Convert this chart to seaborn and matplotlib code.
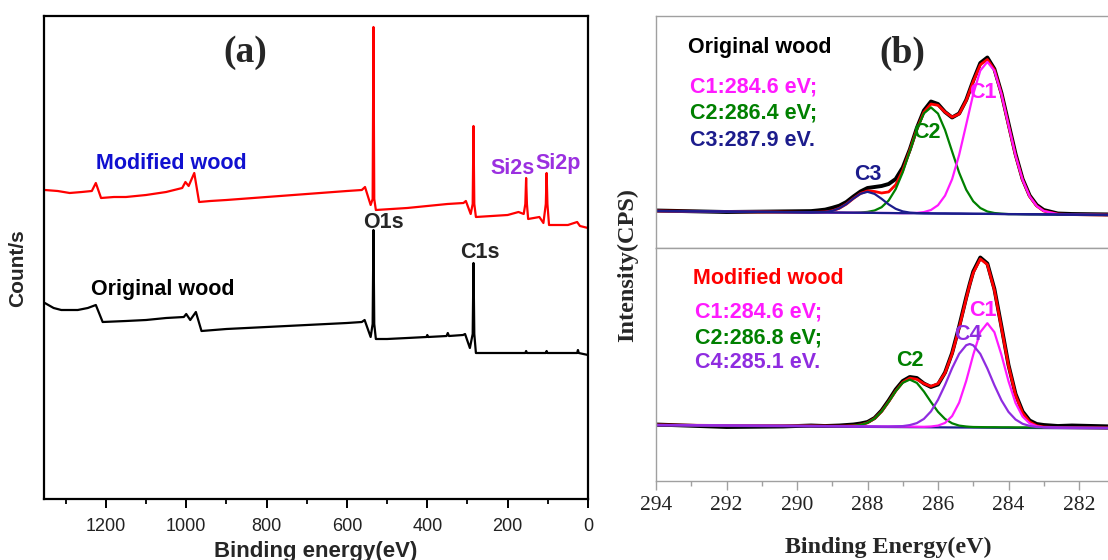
import matplotlib
matplotlib.use("Agg")
import matplotlib.pyplot as plt
import seaborn as sns
from matplotlib.ticker import MultipleLocator

sns.set_theme(style="white")
plt.rcParams['font.family'] = ['Liberation Sans', 'DejaVu Sans']

# ---------------- Panel (a): survey spectra ----------------
SURVEY_E_MOD = [1352, 1320, 1290, 1260, 1235, 1225, 1212, 1180, 1150, 1100, 1050, 1010, 1002, 994,
                980, 968, 940, 900, 800, 700, 600, 563, 555, 541, 536, 534, 532, 528, 450, 400,
                350, 310, 304, 292, 287, 285, 283, 279, 200, 173, 160, 156, 154, 152, 149, 121,
                111, 105, 103, 101, 97, 50, 27, 20, 0]
SURVEY_C_MOD = [309, 308, 306, 307, 308, 316, 301, 302, 302, 304, 307, 311, 317, 313,
                326, 297, 298, 299, 302, 305, 308, 309, 312, 294, 300, 472, 300, 289, 291, 293,
                295, 296, 298, 285, 295, 373, 295, 282, 284, 287, 285, 295, 321, 295, 280, 282,
                276, 295, 326, 295, 274, 274, 277, 273, 271]

SURVEY_E_ORI = [1352, 1330, 1311, 1270, 1245, 1225, 1208, 1150, 1100, 1050, 1006, 1000, 990, 976,
                962, 900, 800, 700, 600, 563, 556, 541, 536, 534, 532, 528, 500, 450, 402, 400,
                398, 352, 349, 346, 311, 306, 294, 287, 285, 283, 279, 200, 156, 154, 152, 105,
                103, 101, 27, 25, 23, 0]
SURVEY_C_ORI = [196, 191, 189, 189, 191, 194, 177, 178, 179, 181, 182, 185, 179, 187,
                168, 170, 172, 174, 176, 177, 179, 162, 175, 269, 175, 160, 160, 161, 162, 164,
                162, 163, 166, 163, 164, 165, 151, 165, 236, 165, 146, 146, 146, 148, 146, 146,
                148, 146, 146, 149, 146, 144]

SURVEY_TICKS = [1200, 1000, 800, 600, 400, 200, 0]

# ---------------- Panel (b): C1s high resolution ----------------
E_TOP = [294.0, 292.0, 290.4, 289.6, 289.4, 289.2, 289.0, 288.8, 288.6, 288.4, 288.2, 288.0,
         287.8, 287.6, 287.4, 287.2, 287.0, 286.8, 286.6, 286.4, 286.2, 286.0, 285.8, 285.6,
         285.4, 285.2, 285.0, 284.8, 284.6, 284.4, 284.2, 284.0, 283.8, 283.6, 283.4, 283.2,
         283.0, 282.6, 282.2, 281.0]
TOP_MEASURED = [37.5, 36.0, 36.6, 36.9, 37.6, 38.4, 40.2, 42.3, 46.0, 51.5, 56.5, 60.0,
                61.0, 62.0, 64.0, 69.0, 80.5, 98.5, 120.0, 137.5, 146.5, 144.0, 136.0, 130.5,
                134.5, 148.0, 167.5, 185.0, 190.5, 179.0, 155.0, 124.5, 94.0, 69.0, 52.5, 43.0,
                38.0, 34.5, 34.0, 33.5]
TOP_ENVELOPE = [37.0, 36.4, 35.9, 35.6, 35.8, 36.1, 37.2, 39.7, 43.9, 49.5, 54.5, 57.1,
                56.5, 55.0, 56.1, 63.2, 77.5, 97.6, 118.8, 135.8, 144.0, 142.7, 135.9, 130.9,
                134.0, 147.4, 166.5, 183.2, 188.5, 178.2, 154.1, 123.0, 92.6, 68.2, 51.6, 42.0,
                37.0, 33.9, 33.4, 33.0]
TOP_C1 = [37.0, 36.4, 35.9, 35.6, 35.6, 35.5, 35.4, 35.4, 35.3, 35.3, 35.2, 35.2,
          35.1, 35.0, 35.0, 34.9, 34.8, 34.9, 35.1, 35.9, 38.0, 42.8, 52.4, 68.8,
          93.1, 123.4, 154.0, 177.4, 186.1, 177.3, 153.8, 123.0, 92.6, 68.2, 51.6, 42.0,
          37.0, 33.9, 33.4, 33.0]
TOP_C2 = [37.0, 36.4, 35.9, 35.6, 35.6, 35.5, 35.4, 35.4, 35.3, 35.3, 35.5, 36.1,
          37.5, 40.8, 47.5, 58.9, 75.7, 96.9, 118.2, 134.6, 140.6, 134.4, 118.0, 96.5,
          75.3, 58.3, 46.7, 40.0, 36.5, 35.0, 34.3, 33.9, 33.9, 33.8, 33.7, 33.7,
          33.6, 33.5, 33.4, 33.0]
TOP_C3 = [37.0, 36.4, 35.9, 35.6, 35.8, 36.1, 37.2, 39.7, 43.9, 49.5, 54.2, 56.2,
          54.1, 49.2, 43.6, 39.2, 36.6, 35.4, 34.9, 34.7, 34.6, 34.5, 34.5, 34.4,
          34.4, 34.3, 34.2, 34.2, 34.1, 34.1, 34.0, 33.9, 33.9, 33.8, 33.7, 33.7,
          33.6, 33.5, 33.4, 33.0]
TOP_BG_E = [294.0, 281.0]
TOP_BG = [37.0, 33.0]

E_BOT = [294.0, 292.0, 290.4, 289.6, 289.2, 288.8, 288.6, 288.4, 288.2, 288.0, 287.8, 287.6,
         287.4, 287.2, 287.0, 286.8, 286.6, 286.4, 286.2, 286.0, 285.8, 285.6, 285.4, 285.2,
         285.1, 285.0, 284.8, 284.6, 284.4, 284.2, 284.0, 283.8, 283.6, 283.4, 283.2, 283.0,
         282.6, 282.2, 281.0]
BOT_MEASURED = [56.5, 54.0, 54.5, 55.5, 55.0, 55.5, 56.0, 56.5, 57.5, 59.0, 63.0, 70.5,
                80.5, 91.5, 100.0, 104.0, 103.0, 97.5, 94.0, 96.5, 108.5, 128.0, 154.5, 183.5,
                197.0, 209.5, 223.5, 217.5, 192.0, 154.5, 116.0, 87.0, 69.5, 60.5, 57.0, 56.0,
                55.0, 55.5, 54.5]
BOT_ENVELOPE = [56.0, 55.5, 55.2, 55.0, 54.9, 54.8, 54.9, 55.2, 56.1, 58.2, 62.5, 69.5,
                79.3, 90.0, 98.7, 102.9, 101.7, 97.4, 94.7, 97.4, 108.0, 127.2, 153.0, 182.4,
                196.3, 208.2, 222.1, 216.5, 190.8, 153.1, 115.2, 85.9, 68.0, 59.1, 55.2, 54.0,
                53.4, 53.3, 53.0]
BOT_C1 = [56.0, 55.5, 55.2, 55.0, 54.9, 54.8, 54.8, 54.7, 54.7, 54.6, 54.6, 54.5,
          54.5, 54.5, 54.4, 54.4, 54.3, 54.2, 54.5, 55.4, 58.1, 64.9, 78.4, 100.1,
          113.1, 126.3, 148.9, 157.8, 148.8, 126.1, 99.8, 78.0, 64.4, 57.6, 54.7, 53.8,
          53.4, 53.3, 53.0]
BOT_C2 = [56.0, 55.5, 55.2, 55.0, 54.9, 54.8, 54.9, 55.2, 56.1, 58.2, 62.5, 69.5,
          79.3, 89.8, 98.2, 101.4, 98.1, 89.5, 79.0, 69.2, 62.0, 57.7, 55.4, 54.5,
          54.2, 54.0, 53.9, 53.8, 53.8, 53.7, 53.7, 53.6, 53.6, 53.6, 53.5, 53.5,
          53.4, 53.3, 53.0]
BOT_C4 = [56.0, 55.5, 55.2, 55.0, 54.9, 54.8, 54.8, 54.7, 54.7, 54.6, 54.6, 54.5,
          54.5, 54.7, 54.9, 55.9, 57.9, 62.1, 69.6, 81.2, 96.1, 112.8, 127.2, 135.8,
          137.0, 135.7, 127.1, 112.5, 95.8, 80.7, 69.1, 61.5, 57.2, 55.1, 54.0, 53.7,
          53.4, 53.3, 53.0]
BOT_BG_E = [294.0, 281.0]
BOT_BG = [55.5, 52.5]

HR_TICKS = [294, 292, 290, 288, 286, 284, 282]

# ---------------- colours ----------------
RED = '#ff0000'
MAGENTA = '#ff1aff'
GREEN = '#008000'
NAVY = '#1c1c8c'
PURPLE = '#8f2ce0'
BLUE_TXT = '#1010d0'
SI_PURPLE = '#9b30e0'
GRAY = '#a0a0a0'

W, H = 1108, 560
fig = plt.figure(figsize=(W / 100, H / 100), dpi=100)


def box(l, t, r, b):
    return [l / W, 1 - b / H, (r - l) / W, (b - t) / H]


def fx(x):
    return x / W


def fy(y):
    return 1 - y / H


axa = fig.add_axes(box(44, 16, 588, 499))
axt = fig.add_axes(box(656, 16, 1114.25, 248))
axb = fig.add_axes(box(656, 248, 1114.25, 481))

# ---- panel (a) ----
sns.lineplot(x=SURVEY_E_ORI, y=SURVEY_C_ORI, ax=axa, color='black', lw=1.6, sort=False, estimator=None)
sns.lineplot(x=SURVEY_E_MOD, y=SURVEY_C_MOD, ax=axa, color=RED, lw=1.6, sort=False, estimator=None)
axa.set_xlim(1354, 0)
axa.set_ylim(0, 483)
axa.set_yticks([])
axa.set_xticks(SURVEY_TICKS)
axa.set_xticklabels([str(t) for t in SURVEY_TICKS], fontsize=13, color='#222222')
axa.xaxis.set_minor_locator(MultipleLocator(100))
axa.tick_params(axis='x', which='major', direction='out', length=6.5, width=1.4,
                bottom=True, color='black', pad=7)
axa.tick_params(axis='x', which='minor', direction='out', length=3.5, width=1.3,
                bottom=True, color='black')
for s in axa.spines.values():
    s.set_color('black')
    s.set_linewidth(1.6)
axa.set_xlabel('')
axa.set_ylabel('')

ANN = 15.5
fig.text(fx(316), fy(551), 'Binding energy(eV)', ha='center', va='center',
         fontsize=16, fontweight='bold')
fig.text(fx(18), fy(268), 'Count/s', ha='center', va='center', rotation=90,
         fontsize=15, fontweight='bold')
fig.text(fx(245), fy(53), '(a)', ha='center', va='center', fontsize=27,
         fontweight='bold', family=['Liberation Serif', 'DejaVu Serif'])
fig.text(fx(171), fy(163), 'Modified wood', ha='center', va='center', fontsize=ANN,
         fontweight='bold', color=BLUE_TXT)
fig.text(fx(163), fy(290), 'Original wood', ha='center', va='center', fontsize=ANN,
         fontweight='bold', color='black')
fig.text(fx(383), fy(223), 'O1s', ha='center', va='center', fontsize=ANN, fontweight='bold')
fig.text(fx(480), fy(253), 'C1s', ha='center', va='center', fontsize=ANN, fontweight='bold')
fig.text(fx(513), fy(169), 'Si2s', ha='center', va='center', fontsize=ANN,
         fontweight='bold', color=SI_PURPLE)
fig.text(fx(558), fy(163), 'Si2p', ha='center', va='center', fontsize=ANN,
         fontweight='bold', color=SI_PURPLE)

# ---- panel (b) top ----
sns.lineplot(x=E_TOP, y=TOP_MEASURED, ax=axt, color='black', lw=2.8, sort=False, estimator=None)
sns.lineplot(x=E_TOP, y=TOP_ENVELOPE, ax=axt, color=RED, lw=2.0, sort=False, estimator=None)
sns.lineplot(x=E_TOP, y=TOP_C2, ax=axt, color=GREEN, lw=1.6, sort=False, estimator=None)
sns.lineplot(x=E_TOP, y=TOP_C1, ax=axt, color=MAGENTA, lw=1.6, sort=False, estimator=None)
sns.lineplot(x=TOP_BG_E, y=TOP_BG, ax=axt, color=NAVY, lw=1.6, sort=False, estimator=None)
sns.lineplot(x=E_TOP, y=TOP_C3, ax=axt, color=NAVY, lw=1.6, sort=False, estimator=None)
axt.set_xlim(294, 281)
axt.set_ylim(0, 232)

# ---- panel (b) bottom ----
sns.lineplot(x=E_BOT, y=BOT_MEASURED, ax=axb, color='black', lw=2.8, sort=False, estimator=None)
sns.lineplot(x=E_BOT, y=BOT_ENVELOPE, ax=axb, color=RED, lw=2.0, sort=False, estimator=None)
sns.lineplot(x=BOT_BG_E, y=BOT_BG, ax=axb, color=NAVY, lw=1.6, sort=False, estimator=None)
sns.lineplot(x=E_BOT, y=BOT_C2, ax=axb, color=GREEN, lw=1.6, sort=False, estimator=None)
sns.lineplot(x=E_BOT, y=BOT_C1, ax=axb, color=MAGENTA, lw=1.6, sort=False, estimator=None)
sns.lineplot(x=E_BOT, y=BOT_C4, ax=axb, color=PURPLE, lw=1.6, sort=False, estimator=None)
axb.set_xlim(294, 281)
axb.set_ylim(0, 233)

for ax in (axt, axb):
    ax.set_yticks([])
    ax.set_xlabel('')
    ax.set_ylabel('')
    for name, s in ax.spines.items():
        s.set_color(GRAY)
        s.set_linewidth(1.0)
    ax.spines['right'].set_visible(False)

axt.set_xticks([])
axb.set_xticks(HR_TICKS)
axb.set_xticklabels([str(t) for t in HR_TICKS], fontsize=15.5, color='#222222',
                    family=['Liberation Serif', 'DejaVu Serif'])
axb.xaxis.set_minor_locator(MultipleLocator(1))
axb.tick_params(axis='x', which='major', direction='out', length=6.5, width=1.0,
                bottom=True, color=GRAY, pad=4)
axb.tick_params(axis='x', which='minor', direction='out', length=3.8, width=1.0,
                bottom=True, color=GRAY)

serif = ['Liberation Serif', 'DejaVu Serif']
fig.text(fx(888), fy(547), 'Binding Energy(eV)', ha='center', va='center', fontsize=17.3,
         fontweight='bold', family=serif)
fig.text(fx(628), fy(265), 'Intensity(CPS)', ha='center', va='center', rotation=90,
         fontsize=17.5, fontweight='bold', family=serif)
fig.text(fx(902), fy(53), '(b)', ha='center', va='center', fontsize=27,
         fontweight='bold', family=serif)

fig.text(fx(688), fy(48), 'Original wood', ha='left', va='center', fontsize=ANN,
         fontweight='bold', color='black')
fig.text(fx(690), fy(87), 'C1:284.6 eV;', ha='left', va='center', fontsize=ANN,
         fontweight='bold', color=MAGENTA)
fig.text(fx(690), fy(113), 'C2:286.4 eV;', ha='left', va='center', fontsize=ANN,
         fontweight='bold', color=GREEN)
fig.text(fx(690), fy(140), 'C3:287.9 eV.', ha='left', va='center', fontsize=ANN,
         fontweight='bold', color=NAVY)
fig.text(fx(983), fy(93), 'C1', ha='center', va='center', fontsize=ANN,
         fontweight='bold', color=MAGENTA)
fig.text(fx(927), fy(132), 'C2', ha='center', va='center', fontsize=ANN,
         fontweight='bold', color=GREEN)
fig.text(fx(868), fy(175), 'C3', ha='center', va='center', fontsize=ANN,
         fontweight='bold', color=NAVY)

fig.text(fx(693), fy(278), 'Modified wood', ha='left', va='center', fontsize=ANN,
         fontweight='bold', color=RED)
fig.text(fx(695), fy(312), 'C1:284.6 eV;', ha='left', va='center', fontsize=ANN,
         fontweight='bold', color=MAGENTA)
fig.text(fx(695), fy(338), 'C2:286.8 eV;', ha='left', va='center', fontsize=ANN,
         fontweight='bold', color=GREEN)
fig.text(fx(695), fy(363), 'C4:285.1 eV.', ha='left', va='center', fontsize=ANN,
         fontweight='bold', color=PURPLE)
fig.text(fx(910), fy(361), 'C2', ha='center', va='center', fontsize=ANN,
         fontweight='bold', color=GREEN)
fig.text(fx(968), fy(334), 'C4', ha='center', va='center', fontsize=ANN,
         fontweight='bold', color=PURPLE)
fig.text(fx(983), fy(311), 'C1', ha='center', va='center', fontsize=ANN,
         fontweight='bold', color=MAGENTA)

fig.savefig('out.png', dpi=100, facecolor='white')
